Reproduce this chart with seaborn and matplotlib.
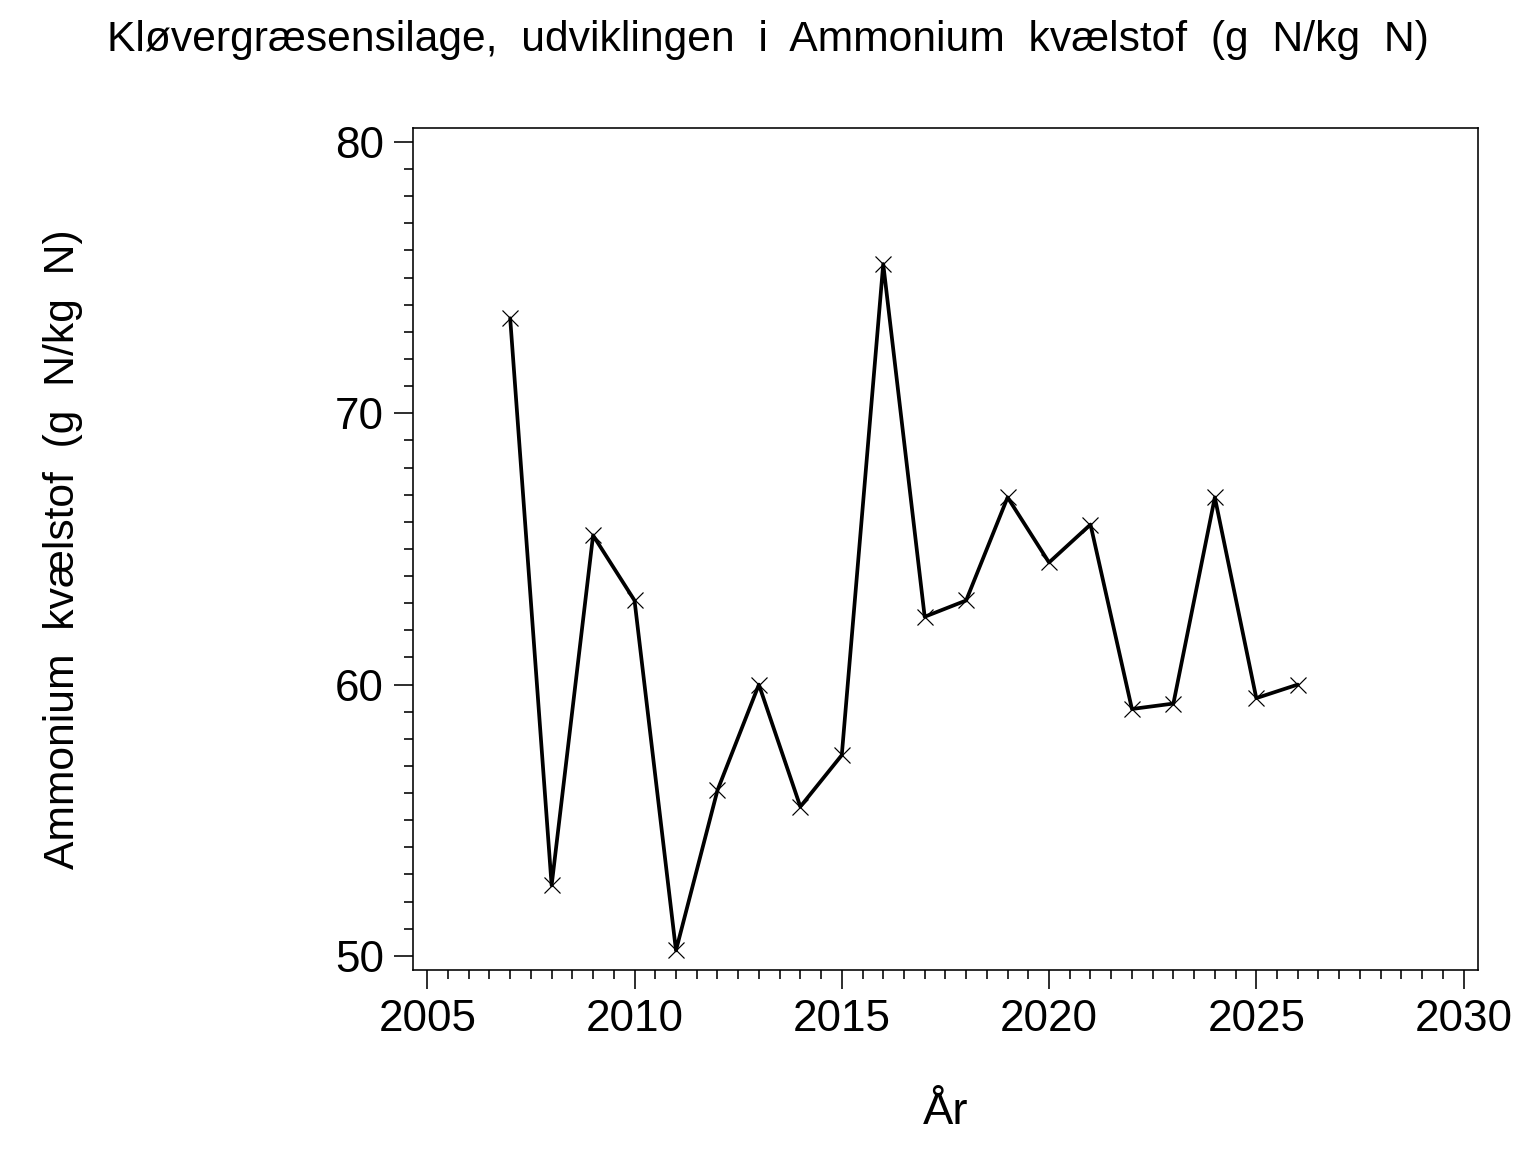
import pandas as pd
import numpy as np
import matplotlib
matplotlib.use("Agg")
import matplotlib.pyplot as plt
import seaborn as sns
from matplotlib.ticker import MultipleLocator

# data
years = [2007, 2008, 2009, 2010, 2011, 2012, 2013, 2014, 2015, 2016,
         2017, 2018, 2019, 2020, 2021, 2022, 2023, 2024, 2025, 2026]
ammonium = [73.5, 52.6, 65.5, 63.1, 50.2, 56.1, 60.0, 55.5, 57.4, 75.5,
            62.5, 63.1, 66.9, 64.5, 65.9, 59.1, 59.3, 66.9, 59.5, 60.0]

df = pd.DataFrame({"Aar": years, "Ammonium": ammonium})

sns.set_style("white")
plt.rcParams["font.family"] = ["Liberation Sans", "DejaVu Sans"]
plt.rcParams["text.color"] = "black"
plt.rcParams["axes.labelcolor"] = "black"
plt.rcParams["xtick.color"] = "black"
plt.rcParams["ytick.color"] = "black"

fig = plt.figure(figsize=(16, 12), dpi=96)
ax = fig.add_axes([0.269, 0.158, 0.693, 0.731])

sns.lineplot(data=df, x="Aar", y="Ammonium", ax=ax, color="black",
             linewidth=2.8, marker="x", markersize=12,
             markeredgewidth=0.9, markeredgecolor="black")

ax.set_xlim(2004.66, 2030.34)
ax.set_ylim(49.48, 80.52)
ax.xaxis.set_major_locator(MultipleLocator(5))
ax.xaxis.set_minor_locator(MultipleLocator(0.5))
ax.yaxis.set_major_locator(MultipleLocator(10))
ax.yaxis.set_minor_locator(MultipleLocator(1))

ax.tick_params(axis="both", which="major", direction="out", length=14,
               width=1.2, labelsize=33, color="black", pad=8)
ax.tick_params(axis="both", which="minor", direction="out", length=7,
               width=1.2, color="black")
ax.tick_params(bottom=True, left=True, which="both")

for s in ax.spines.values():
    s.set_color("black")
    s.set_linewidth(1.2)

ax.set_xlabel("År", fontsize=34)
ax.set_ylabel("Ammonium  kvælstof  (g  N/kg  N)", fontsize=32)
ax.xaxis.set_label_coords(0.5, -0.145)
ax.yaxis.set_label_coords(-0.31, 0.5)

fig.text(0.5, 0.965,
         "Kløvergræsensilage,  udviklingen  i  Ammonium  kvælstof  (g  N/kg  N)",
         fontsize=32, ha="center", va="center")

fig.savefig("out.png", dpi=96)
